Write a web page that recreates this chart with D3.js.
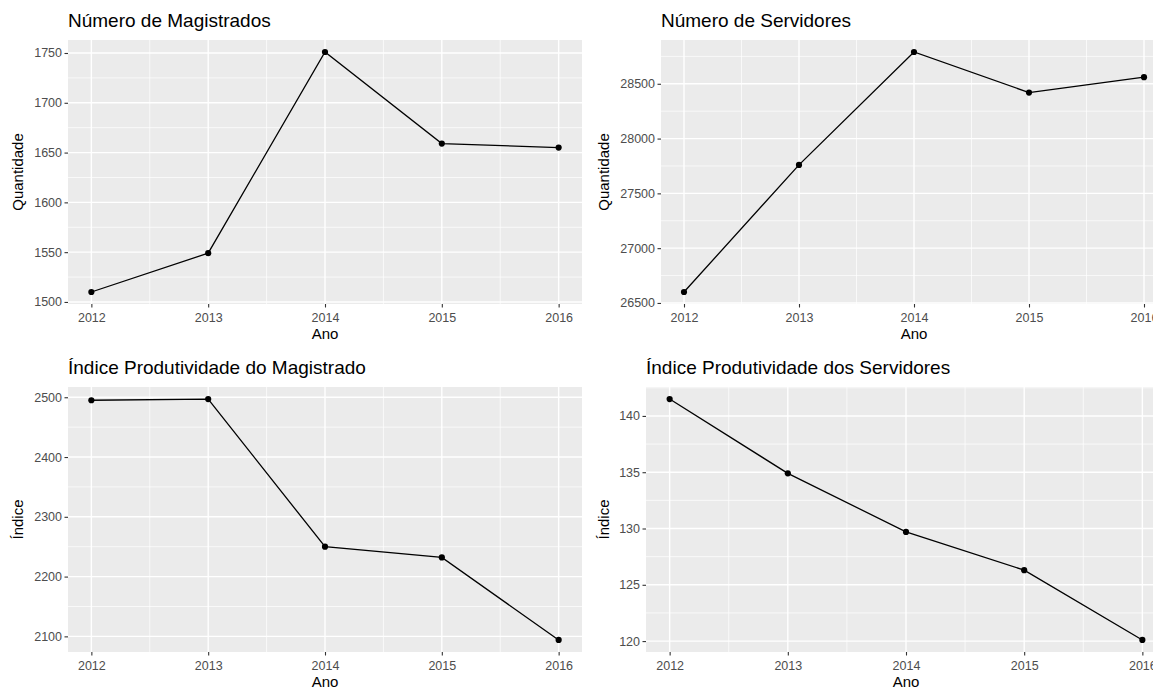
<!DOCTYPE html>
<html>
<head>
<meta charset="utf-8">
<script src="https://cdn.jsdelivr.net/npm/d3@7"></script>
<style>
  html, body { margin: 0; padding: 0; background: #fff; }
  svg { display: block; }
  text { font-family: "Liberation Sans", Arial, Helvetica, sans-serif; }
</style>
</head>
<body>
<svg id="chart" width="1153" height="689"></svg>
<script>
// ---- data ----
const years = [2012, 2013, 2014, 2015, 2016];
const magistrados = [1510, 1549, 1751, 1659, 1655];
const servidores = [26600, 27760, 28790, 28420, 28560];
const indiceMagistrado = [2495, 2497, 2250, 2232, 2094];
const indiceServidores = [141.5, 134.9, 129.7, 126.3, 120.1];

const xTicks = [2012, 2013, 2014, 2015, 2016];
const yTicksMag = [1500, 1550, 1600, 1650, 1700, 1750];
const yTicksServ = [26500, 27000, 27500, 28000, 28500];
const yTicksIdxMag = [2100, 2200, 2300, 2400, 2500];
const yTicksIdxServ = [120, 125, 130, 135, 140];

const titles = ["Número de Magistrados", "Número de Servidores",
                "Índice Produtividade do Magistrado", "Índice Produtividade dos Servidores"];
const yTitles = ["Quantidade", "Quantidade", "Índice", "Índice"];
const xTitle = "Ano";

// ---- layout ----
const panels = [
  { values: magistrados, yTicks: yTicksMag, box: { l: 68, r: 582, t: 40, b: 304 }, yTitleX: 23 },
  { values: servidores, yTicks: yTicksServ, box: { l: 661, r: 1167, t: 40, b: 304 }, yTitleX: 609 },
  { values: indiceMagistrado, yTicks: yTicksIdxMag, box: { l: 68, r: 582, t: 387, b: 652 }, yTitleX: 23 },
  { values: indiceServidores, yTicks: yTicksIdxServ, box: { l: 646, r: 1166, t: 387, b: 652 }, yTitleX: 609 }
];

const svg = d3.select("#chart");

function expand(ext) {
  const r = ext[1] - ext[0];
  return [ext[0] - 0.05 * r, ext[1] + 0.05 * r];
}

function minorBreaks(major, dom) {
  const step = major[1] - major[0];
  const b = [major[0] - step].concat(major, [major[major.length - 1] + step]);
  const out = [];
  for (let i = 0; i < b.length - 1; i++) {
    const m = (b[i] + b[i + 1]) / 2;
    if (m >= dom[0] && m <= dom[1]) out.push(m);
  }
  return out;
}

panels.forEach((p, i) => {
  const bx = p.box;
  const xDom = expand(d3.extent(years));
  const yDom = expand(d3.extent(p.values));
  const x = d3.scaleLinear().domain(xDom).range([bx.l, bx.r]);
  const y = d3.scaleLinear().domain(yDom).range([bx.b, bx.t]);

  const g = svg.append("g");

  // panel background
  g.append("rect").attr("x", bx.l).attr("y", bx.t)
    .attr("width", bx.r - bx.l).attr("height", bx.b - bx.t)
    .attr("fill", "#EBEBEB");

  // minor grid
  const xMinor = minorBreaks(xTicks, xDom);
  const yMinor = minorBreaks(p.yTicks, yDom);
  g.selectAll(".xminor").data(xMinor).enter().append("line")
    .attr("x1", d => x(d)).attr("x2", d => x(d)).attr("y1", bx.t).attr("y2", bx.b)
    .attr("stroke", "#fff").attr("stroke-width", 0.7);
  g.selectAll(".yminor").data(yMinor).enter().append("line")
    .attr("y1", d => y(d)).attr("y2", d => y(d)).attr("x1", bx.l).attr("x2", bx.r)
    .attr("stroke", "#fff").attr("stroke-width", 0.7);
  // major grid
  g.selectAll(".xmajor").data(xTicks).enter().append("line")
    .attr("x1", d => x(d)).attr("x2", d => x(d)).attr("y1", bx.t).attr("y2", bx.b)
    .attr("stroke", "#fff").attr("stroke-width", 1.4);
  g.selectAll(".ymajor").data(p.yTicks).enter().append("line")
    .attr("y1", d => y(d)).attr("y2", d => y(d)).attr("x1", bx.l).attr("x2", bx.r)
    .attr("stroke", "#fff").attr("stroke-width", 1.4);

  // axes
  const xAxis = d3.axisBottom(x).tickValues(xTicks).tickFormat(d3.format("d"))
    .tickSize(3.5).tickPadding(4);
  const gx = g.append("g").attr("transform", `translate(0,${bx.b})`).call(xAxis);
  gx.select(".domain").remove();
  gx.selectAll(".tick line").attr("stroke", "#333").attr("stroke-width", 1.1);
  gx.selectAll(".tick text").attr("fill", "#4D4D4D").attr("font-size", "12.5px")
    .attr("dy", null).attr("y", 18).attr("dominant-baseline", "alphabetic");

  const yAxis = d3.axisLeft(y).tickValues(p.yTicks).tickFormat(d3.format("d"))
    .tickSize(3.5).tickPadding(2.5);
  const gy = g.append("g").attr("transform", `translate(${bx.l},0)`).call(yAxis);
  gy.select(".domain").remove();
  gy.selectAll(".tick line").attr("stroke", "#333").attr("stroke-width", 1.1);
  gy.selectAll(".tick text").attr("fill", "#4D4D4D").attr("font-size", "12.5px");

  // line + points
  const line = d3.line().x((d, j) => x(years[j])).y(d => y(d));
  g.append("path").datum(p.values).attr("d", line)
    .attr("fill", "none").attr("stroke", "#000").attr("stroke-width", 1.3);
  g.selectAll(".pt").data(p.values).enter().append("circle")
    .attr("cx", (d, j) => x(years[j])).attr("cy", d => y(d)).attr("r", 3.1)
    .attr("fill", "#000");

  // titles
  g.append("text").attr("x", bx.l).attr("y", bx.t - 13)
    .attr("font-size", "19px").attr("fill", "#000").text(titles[i]);
  g.append("text").attr("x", (bx.l + bx.r) / 2).attr("y", bx.b + 35)
    .attr("text-anchor", "middle").attr("font-size", "15px").attr("fill", "#000").text(xTitle);
  g.append("text")
    .attr("transform", `translate(${p.yTitleX},${(bx.t + bx.b) / 2}) rotate(-90)`)
    .attr("text-anchor", "middle").attr("font-size", "15px").attr("fill", "#000").text(yTitles[i]);
});
</script>
</body>
</html>
